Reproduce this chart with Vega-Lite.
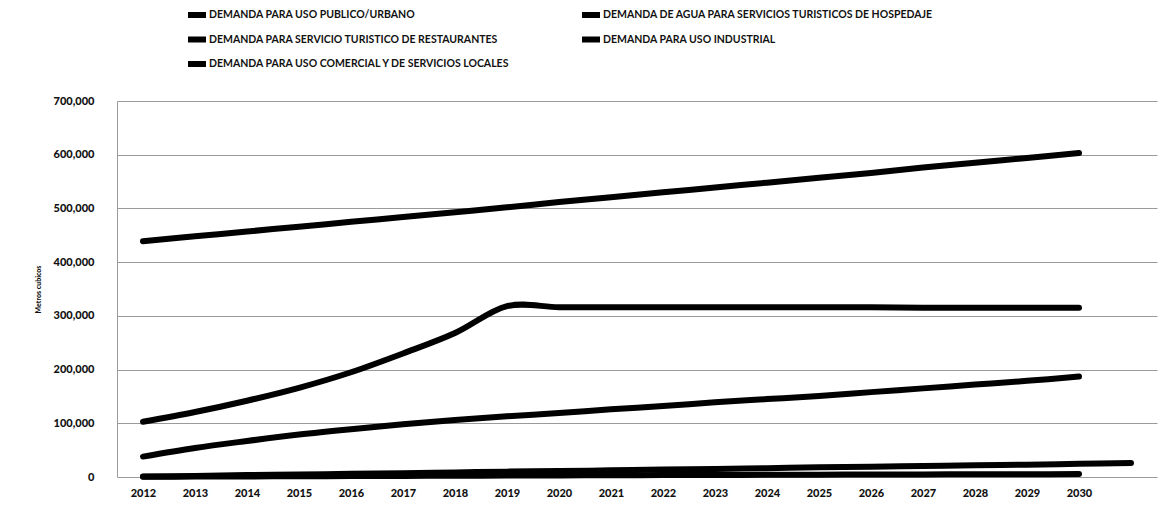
{
  "$schema": "https://vega.github.io/schema/vega-lite/v6.json",
  "autosize": {"type": "none"},
  "padding": {"left": 117, "top": 101, "right": 3, "bottom": 29},
  "width": 1040,
  "height": 376,
  "background": "white",
  "config": {
    "view": {"stroke": null},
    "font": "Lato",
    "axis": {"labelFont": "Lato", "titleFont": "Lato"},
    "legend": {"labelFont": "Lato"}
  },
  "datasets": {
    "demanda": [
      {"serie": "DEMANDA PARA USO PUBLICO/URBANO", "anio": 2012, "m3": 439000},
      {"serie": "DEMANDA PARA USO PUBLICO/URBANO", "anio": 2013, "m3": 448000},
      {"serie": "DEMANDA PARA USO PUBLICO/URBANO", "anio": 2014, "m3": 457000},
      {"serie": "DEMANDA PARA USO PUBLICO/URBANO", "anio": 2015, "m3": 466000},
      {"serie": "DEMANDA PARA USO PUBLICO/URBANO", "anio": 2016, "m3": 475000},
      {"serie": "DEMANDA PARA USO PUBLICO/URBANO", "anio": 2017, "m3": 484000},
      {"serie": "DEMANDA PARA USO PUBLICO/URBANO", "anio": 2018, "m3": 493000},
      {"serie": "DEMANDA PARA USO PUBLICO/URBANO", "anio": 2019, "m3": 502000},
      {"serie": "DEMANDA PARA USO PUBLICO/URBANO", "anio": 2020, "m3": 512000},
      {"serie": "DEMANDA PARA USO PUBLICO/URBANO", "anio": 2021, "m3": 521000},
      {"serie": "DEMANDA PARA USO PUBLICO/URBANO", "anio": 2022, "m3": 530000},
      {"serie": "DEMANDA PARA USO PUBLICO/URBANO", "anio": 2023, "m3": 539000},
      {"serie": "DEMANDA PARA USO PUBLICO/URBANO", "anio": 2024, "m3": 548000},
      {"serie": "DEMANDA PARA USO PUBLICO/URBANO", "anio": 2025, "m3": 557000},
      {"serie": "DEMANDA PARA USO PUBLICO/URBANO", "anio": 2026, "m3": 566000},
      {"serie": "DEMANDA PARA USO PUBLICO/URBANO", "anio": 2027, "m3": 576000},
      {"serie": "DEMANDA PARA USO PUBLICO/URBANO", "anio": 2028, "m3": 585000},
      {"serie": "DEMANDA PARA USO PUBLICO/URBANO", "anio": 2029, "m3": 594000},
      {"serie": "DEMANDA PARA USO PUBLICO/URBANO", "anio": 2030, "m3": 603000},
      {"serie": "DEMANDA DE AGUA PARA SERVICIOS TURISTICOS DE HOSPEDAJE", "anio": 2012, "m3": 103000},
      {"serie": "DEMANDA DE AGUA PARA SERVICIOS TURISTICOS DE HOSPEDAJE", "anio": 2013, "m3": 121000},
      {"serie": "DEMANDA DE AGUA PARA SERVICIOS TURISTICOS DE HOSPEDAJE", "anio": 2014, "m3": 142000},
      {"serie": "DEMANDA DE AGUA PARA SERVICIOS TURISTICOS DE HOSPEDAJE", "anio": 2015, "m3": 166000},
      {"serie": "DEMANDA DE AGUA PARA SERVICIOS TURISTICOS DE HOSPEDAJE", "anio": 2016, "m3": 195000},
      {"serie": "DEMANDA DE AGUA PARA SERVICIOS TURISTICOS DE HOSPEDAJE", "anio": 2017, "m3": 230000},
      {"serie": "DEMANDA DE AGUA PARA SERVICIOS TURISTICOS DE HOSPEDAJE", "anio": 2018, "m3": 268000},
      {"serie": "DEMANDA DE AGUA PARA SERVICIOS TURISTICOS DE HOSPEDAJE", "anio": 2019, "m3": 318000},
      {"serie": "DEMANDA DE AGUA PARA SERVICIOS TURISTICOS DE HOSPEDAJE", "anio": 2020, "m3": 316000},
      {"serie": "DEMANDA DE AGUA PARA SERVICIOS TURISTICOS DE HOSPEDAJE", "anio": 2021, "m3": 316000},
      {"serie": "DEMANDA DE AGUA PARA SERVICIOS TURISTICOS DE HOSPEDAJE", "anio": 2022, "m3": 316000},
      {"serie": "DEMANDA DE AGUA PARA SERVICIOS TURISTICOS DE HOSPEDAJE", "anio": 2023, "m3": 316000},
      {"serie": "DEMANDA DE AGUA PARA SERVICIOS TURISTICOS DE HOSPEDAJE", "anio": 2024, "m3": 316000},
      {"serie": "DEMANDA DE AGUA PARA SERVICIOS TURISTICOS DE HOSPEDAJE", "anio": 2025, "m3": 316000},
      {"serie": "DEMANDA DE AGUA PARA SERVICIOS TURISTICOS DE HOSPEDAJE", "anio": 2026, "m3": 316000},
      {"serie": "DEMANDA DE AGUA PARA SERVICIOS TURISTICOS DE HOSPEDAJE", "anio": 2027, "m3": 315000},
      {"serie": "DEMANDA DE AGUA PARA SERVICIOS TURISTICOS DE HOSPEDAJE", "anio": 2028, "m3": 315000},
      {"serie": "DEMANDA DE AGUA PARA SERVICIOS TURISTICOS DE HOSPEDAJE", "anio": 2029, "m3": 315000},
      {"serie": "DEMANDA DE AGUA PARA SERVICIOS TURISTICOS DE HOSPEDAJE", "anio": 2030, "m3": 315000},
      {"serie": "DEMANDA PARA SERVICIO TURISTICO DE RESTAURANTES", "anio": 2012, "m3": 38000},
      {"serie": "DEMANDA PARA SERVICIO TURISTICO DE RESTAURANTES", "anio": 2013, "m3": 54000},
      {"serie": "DEMANDA PARA SERVICIO TURISTICO DE RESTAURANTES", "anio": 2014, "m3": 67000},
      {"serie": "DEMANDA PARA SERVICIO TURISTICO DE RESTAURANTES", "anio": 2015, "m3": 79000},
      {"serie": "DEMANDA PARA SERVICIO TURISTICO DE RESTAURANTES", "anio": 2016, "m3": 89000},
      {"serie": "DEMANDA PARA SERVICIO TURISTICO DE RESTAURANTES", "anio": 2017, "m3": 98000},
      {"serie": "DEMANDA PARA SERVICIO TURISTICO DE RESTAURANTES", "anio": 2018, "m3": 106000},
      {"serie": "DEMANDA PARA SERVICIO TURISTICO DE RESTAURANTES", "anio": 2019, "m3": 113000},
      {"serie": "DEMANDA PARA SERVICIO TURISTICO DE RESTAURANTES", "anio": 2020, "m3": 119000},
      {"serie": "DEMANDA PARA SERVICIO TURISTICO DE RESTAURANTES", "anio": 2021, "m3": 126000},
      {"serie": "DEMANDA PARA SERVICIO TURISTICO DE RESTAURANTES", "anio": 2022, "m3": 132000},
      {"serie": "DEMANDA PARA SERVICIO TURISTICO DE RESTAURANTES", "anio": 2023, "m3": 139000},
      {"serie": "DEMANDA PARA SERVICIO TURISTICO DE RESTAURANTES", "anio": 2024, "m3": 145000},
      {"serie": "DEMANDA PARA SERVICIO TURISTICO DE RESTAURANTES", "anio": 2025, "m3": 151000},
      {"serie": "DEMANDA PARA SERVICIO TURISTICO DE RESTAURANTES", "anio": 2026, "m3": 158000},
      {"serie": "DEMANDA PARA SERVICIO TURISTICO DE RESTAURANTES", "anio": 2027, "m3": 165000},
      {"serie": "DEMANDA PARA SERVICIO TURISTICO DE RESTAURANTES", "anio": 2028, "m3": 172000},
      {"serie": "DEMANDA PARA SERVICIO TURISTICO DE RESTAURANTES", "anio": 2029, "m3": 179000},
      {"serie": "DEMANDA PARA SERVICIO TURISTICO DE RESTAURANTES", "anio": 2030, "m3": 187000},
      {"serie": "DEMANDA PARA USO INDUSTRIAL", "anio": 2012, "m3": 1000},
      {"serie": "DEMANDA PARA USO INDUSTRIAL", "anio": 2013, "m3": 2000},
      {"serie": "DEMANDA PARA USO INDUSTRIAL", "anio": 2014, "m3": 3500},
      {"serie": "DEMANDA PARA USO INDUSTRIAL", "anio": 2015, "m3": 4500},
      {"serie": "DEMANDA PARA USO INDUSTRIAL", "anio": 2016, "m3": 6000},
      {"serie": "DEMANDA PARA USO INDUSTRIAL", "anio": 2017, "m3": 7000},
      {"serie": "DEMANDA PARA USO INDUSTRIAL", "anio": 2018, "m3": 8500},
      {"serie": "DEMANDA PARA USO INDUSTRIAL", "anio": 2019, "m3": 10000},
      {"serie": "DEMANDA PARA USO INDUSTRIAL", "anio": 2020, "m3": 11000},
      {"serie": "DEMANDA PARA USO INDUSTRIAL", "anio": 2021, "m3": 12500},
      {"serie": "DEMANDA PARA USO INDUSTRIAL", "anio": 2022, "m3": 14000},
      {"serie": "DEMANDA PARA USO INDUSTRIAL", "anio": 2023, "m3": 15000},
      {"serie": "DEMANDA PARA USO INDUSTRIAL", "anio": 2024, "m3": 16500},
      {"serie": "DEMANDA PARA USO INDUSTRIAL", "anio": 2025, "m3": 18000},
      {"serie": "DEMANDA PARA USO INDUSTRIAL", "anio": 2026, "m3": 19000},
      {"serie": "DEMANDA PARA USO INDUSTRIAL", "anio": 2027, "m3": 20500},
      {"serie": "DEMANDA PARA USO INDUSTRIAL", "anio": 2028, "m3": 22000},
      {"serie": "DEMANDA PARA USO INDUSTRIAL", "anio": 2029, "m3": 23000},
      {"serie": "DEMANDA PARA USO INDUSTRIAL", "anio": 2030, "m3": 24500},
      {"serie": "DEMANDA PARA USO INDUSTRIAL", "anio": 2031, "m3": 26000},
      {"serie": "DEMANDA PARA USO COMERCIAL Y DE SERVICIOS LOCALES", "anio": 2012, "m3": 500},
      {"serie": "DEMANDA PARA USO COMERCIAL Y DE SERVICIOS LOCALES", "anio": 2013, "m3": 800},
      {"serie": "DEMANDA PARA USO COMERCIAL Y DE SERVICIOS LOCALES", "anio": 2014, "m3": 1100},
      {"serie": "DEMANDA PARA USO COMERCIAL Y DE SERVICIOS LOCALES", "anio": 2015, "m3": 1400},
      {"serie": "DEMANDA PARA USO COMERCIAL Y DE SERVICIOS LOCALES", "anio": 2016, "m3": 1700},
      {"serie": "DEMANDA PARA USO COMERCIAL Y DE SERVICIOS LOCALES", "anio": 2017, "m3": 2000},
      {"serie": "DEMANDA PARA USO COMERCIAL Y DE SERVICIOS LOCALES", "anio": 2018, "m3": 2300},
      {"serie": "DEMANDA PARA USO COMERCIAL Y DE SERVICIOS LOCALES", "anio": 2019, "m3": 2600},
      {"serie": "DEMANDA PARA USO COMERCIAL Y DE SERVICIOS LOCALES", "anio": 2020, "m3": 2900},
      {"serie": "DEMANDA PARA USO COMERCIAL Y DE SERVICIOS LOCALES", "anio": 2021, "m3": 3200},
      {"serie": "DEMANDA PARA USO COMERCIAL Y DE SERVICIOS LOCALES", "anio": 2022, "m3": 3500},
      {"serie": "DEMANDA PARA USO COMERCIAL Y DE SERVICIOS LOCALES", "anio": 2023, "m3": 3800},
      {"serie": "DEMANDA PARA USO COMERCIAL Y DE SERVICIOS LOCALES", "anio": 2024, "m3": 4100},
      {"serie": "DEMANDA PARA USO COMERCIAL Y DE SERVICIOS LOCALES", "anio": 2025, "m3": 4400},
      {"serie": "DEMANDA PARA USO COMERCIAL Y DE SERVICIOS LOCALES", "anio": 2026, "m3": 4600},
      {"serie": "DEMANDA PARA USO COMERCIAL Y DE SERVICIOS LOCALES", "anio": 2027, "m3": 4800},
      {"serie": "DEMANDA PARA USO COMERCIAL Y DE SERVICIOS LOCALES", "anio": 2028, "m3": 5000},
      {"serie": "DEMANDA PARA USO COMERCIAL Y DE SERVICIOS LOCALES", "anio": 2029, "m3": 5200},
      {"serie": "DEMANDA PARA USO COMERCIAL Y DE SERVICIOS LOCALES", "anio": 2030, "m3": 5400}
    ]
  },
  "data": {"name": "demanda"},
  "mark": {"type": "line", "interpolate": "cardinal", "strokeCap": "round", "strokeJoin": "round", "clip": false},
  "encoding": {
    "x": {
      "field": "anio",
      "type": "quantitative",
      "scale": {"domain": [2011.5, 2031.5], "nice": false, "zero": false},
      "axis": {
        "title": null,
        "values": [2012, 2013, 2014, 2015, 2016, 2017, 2018, 2019, 2020, 2021, 2022, 2023, 2024, 2025, 2026, 2027, 2028, 2029, 2030],
        "format": "d",
        "grid": false,
        "ticks": false,
        "domain": false,
        "labelFontSize": 11,
        "labelFontWeight": 900,
        "labelColor": "#111",
        "labelPadding": 10
      }
    },
    "y": {
      "field": "m3",
      "type": "quantitative",
      "scale": {"domain": [0, 700000], "nice": false},
      "axis": {
        "title": "Metros cubicos",
        "titleFontSize": 7,
        "titleFontWeight": 900,
        "titleColor": "#111",
        "titlePadding": 12,
        "values": [0, 100000, 200000, 300000, 400000, 500000, 600000, 700000],
        "format": ",d",
        "grid": true,
        "gridColor": "#9a9a9a",
        "gridWidth": 1,
        "ticks": false,
        "domain": true,
        "domainColor": "#9a9a9a",
        "domainWidth": 1,
        "labelFontSize": 11,
        "labelFontWeight": 900,
        "labelColor": "#111",
        "labelPadding": 23
      }
    },
    "color": {
      "field": "serie",
      "type": "nominal",
      "sort": null,
      "scale": {
        "domain": [
          "DEMANDA PARA USO PUBLICO/URBANO",
          "DEMANDA DE AGUA PARA SERVICIOS TURISTICOS DE HOSPEDAJE",
          "DEMANDA PARA SERVICIO TURISTICO DE RESTAURANTES",
          "DEMANDA PARA USO INDUSTRIAL",
          "DEMANDA PARA USO COMERCIAL Y DE SERVICIOS LOCALES"
        ],
        "range": ["#000000", "#000000", "#000000", "#000000", "#000000"]
      },
      "legend": {
        "title": null,
        "orient": "none",
        "legendX": 68,
        "legendY": -98,
        "columns": 2,
        "direction": "horizontal",
        "gridAlign": "all",
        "columnPadding": 30,
        "rowPadding": 0.5,
        "padding": 0,
        "symbolType": "stroke",
        "symbolSize": 324,
        "symbolStrokeWidth": 5,
        "symbolStrokeColor": "#000000",
        "labelFontSize": 10.5,
        "labelFontWeight": "bold",
        "labelColor": "#111",
        "labelOffset": 0,
        "labelLimit": 0
      }
    },
    "strokeWidth": {
      "field": "serie",
      "type": "nominal",
      "scale": {
        "domain": [
          "DEMANDA PARA USO PUBLICO/URBANO",
          "DEMANDA DE AGUA PARA SERVICIOS TURISTICOS DE HOSPEDAJE",
          "DEMANDA PARA SERVICIO TURISTICO DE RESTAURANTES",
          "DEMANDA PARA USO INDUSTRIAL",
          "DEMANDA PARA USO COMERCIAL Y DE SERVICIOS LOCALES"
        ],
        "range": [6, 6, 6, 6, 3.5]
      },
      "legend": null
    }
  }
}
